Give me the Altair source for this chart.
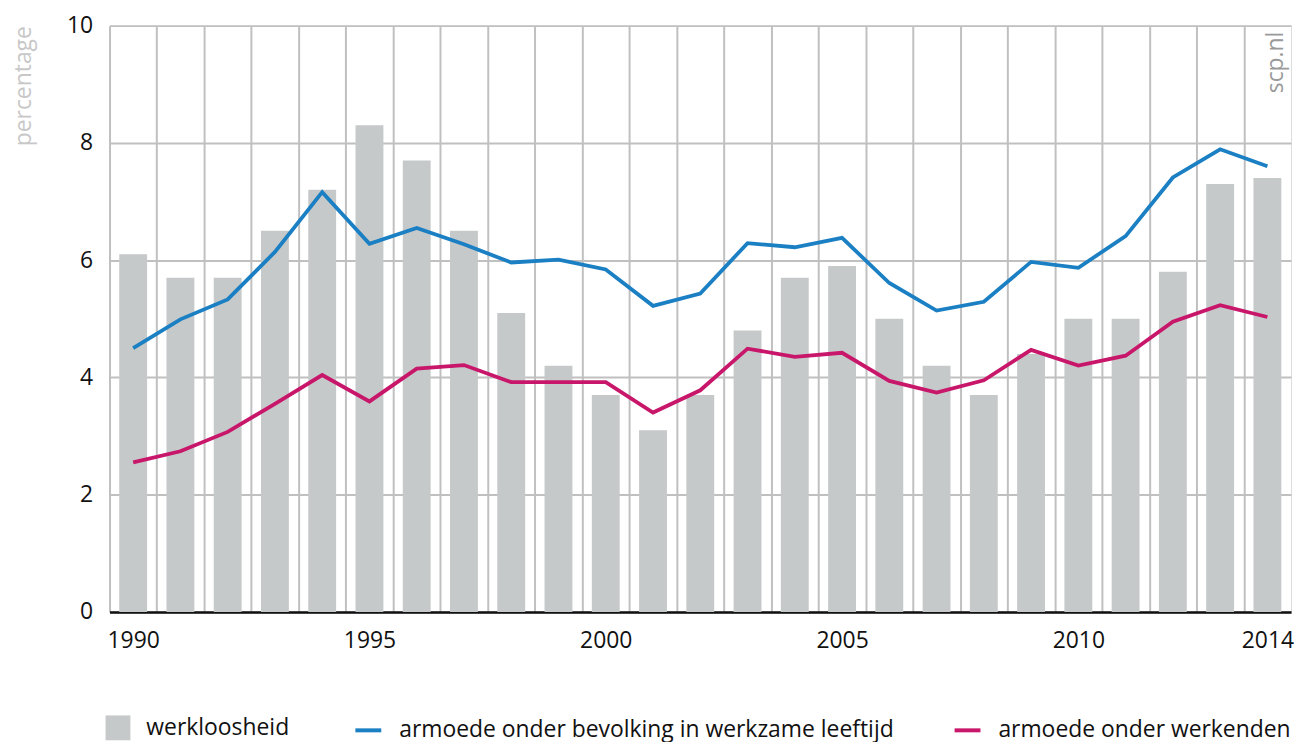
import altair as alt
import pandas as pd

years = list(range(1990, 2015))
werkloosheid = [6.1, 5.7, 5.7, 6.5, 7.2, 8.3, 7.7, 6.5, 5.1, 4.2, 3.7, 3.1, 3.7, 4.8, 5.7, 5.9,
                5.0, 4.2, 3.7, 4.4, 5.0, 5.0, 5.8, 7.3, 7.4]
armoede_bevolking = [4.50, 4.99, 5.33, 6.14, 7.16, 6.28, 6.55, 6.27, 5.96, 6.01, 5.84, 5.22, 5.43,
                     6.29, 6.22, 6.38, 5.61, 5.14, 5.29, 5.97, 5.87, 6.41, 7.41, 7.89, 7.60]
armoede_werkenden = [2.55, 2.74, 3.07, 3.55, 4.04, 3.59, 4.15, 4.21, 3.92, 3.92, 3.92, 3.40, 3.78,
                     4.49, 4.35, 4.42, 3.94, 3.74, 3.95, 4.47, 4.20, 4.37, 4.95, 5.23, 5.03]

bar_name = "werkloosheid"
line_names = ["armoede onder bevolking in werkzame leeftijd", "armoede onder werkenden"]
bar_color = "#c6c9ca"
line_colors = ["#1b7fc3", "#c8176a"]
label_years = [1990, 1995, 2000, 2005, 2010, 2014]

rows = []
for name, vals in zip([bar_name] + line_names, [werkloosheid, armoede_bevolking, armoede_werkenden]):
    for yr, v in zip(years, vals):
        rows.append({"jaar": yr, "serie": name, "waarde": v})
df = pd.DataFrame(rows)

FONT = "Open Sans"
FS = 23
W, H = 1187, 589
PAD_INNER = 0.41
STEP = W / len(years)
HALF_GAP = PAD_INNER * STEP / 2

fill = alt.Fill(
    "serie:N",
    scale=alt.Scale(domain=[bar_name], range=[bar_color]),
    legend=alt.Legend(
        title=None, orient="none", direction="horizontal", legendX=-4, legendY=693,
        padding=0, labelFont=FONT, labelFontSize=FS, labelColor="#111111", labelLimit=0,
        labelOffset=16, symbolType="square", symbolSize=625, symbolStrokeWidth=0,
        symbolOpacity=1,
    ),
)

stroke = alt.Stroke(
    "serie:N",
    scale=alt.Scale(domain=line_names, range=line_colors),
    legend=alt.Legend(
        title=None, orient="none", direction="horizontal", legendX=245, legendY=693,
        padding=0, labelFont=FONT, labelFontSize=FS, labelColor="#111111", labelLimit=0,
        labelOffset=16, columnPadding=52, symbolType="stroke", symbolSize=676,
        symbolStrokeWidth=4,
    ),
)

label_expr = "indexof([" + ",".join(str(y) for y in label_years) + "], +datum.value) >= 0 ? datum.value : ''"

x = alt.X(
    "jaar:O",
    title=None,
    scale=alt.Scale(paddingInner=PAD_INNER, paddingOuter=PAD_INNER / 2),
    axis=alt.Axis(
        labelAngle=0,
        labelExpr=label_expr,
        labelFont=FONT,
        labelFontSize=FS,
        labelColor="#111111",
        labelPadding=18,
        ticks=False,
        bandPosition=0,
        tickOffset=-HALF_GAP,
        labelOffset=HALF_GAP,
        grid=True,
        gridColor="#c0c0c0",
        gridWidth=2,
        domain=True,
        domainColor="#111111",
        domainWidth=2.5,
    ),
)

y = alt.Y(
    "waarde:Q",
    scale=alt.Scale(domain=[0, 10]),
    axis=alt.Axis(
        values=[0, 2, 4, 6, 8, 10],
        title="percentage",
        titleFont=FONT,
        titleFontSize=FS,
        titleFontWeight="normal",
        titleColor="#c8c8c8",
        titleAngle=270,
        titleAlign="right",
        titleBaseline="middle",
        titleX=-86,
        titleY=0,
        labelFont=FONT,
        labelFontSize=FS,
        labelColor="#111111",
        labelPadding=17,
        ticks=False,
        domain=False,
        grid=True,
        gridColor="#c0c0c0",
        gridWidth=2,
    ),
)

base = alt.Chart(df)

bars = base.transform_filter(alt.datum.serie == bar_name).mark_bar().encode(
    x=x, y=y, fill=fill
)

lines = base.transform_filter(alt.datum.serie != bar_name).mark_line(
    strokeWidth=3.8, strokeJoin="miter"
).encode(x=x, y=y, stroke=stroke)

src = alt.Chart(pd.DataFrame({"t": ["scp.nl"]})).mark_text(
    font=FONT, fontSize=FS, color="#9a9a9a", angle=270, align="right", baseline="middle"
).encode(text="t:N", x=alt.value(W - 15), y=alt.value(6))

chart = alt.layer(bars, lines, src).resolve_scale(fill="independent", stroke="independent").properties(
    width=W,
    height=H,
    padding={"left": 102, "top": 16, "right": 4, "bottom": 130},
    autosize=alt.AutoSizeParams(type="none"),
).configure_view(stroke="#c0c0c0", strokeWidth=2).configure(font=FONT)

chart.save("out.html", embed_options={"renderer": "svg", "actions": False})
